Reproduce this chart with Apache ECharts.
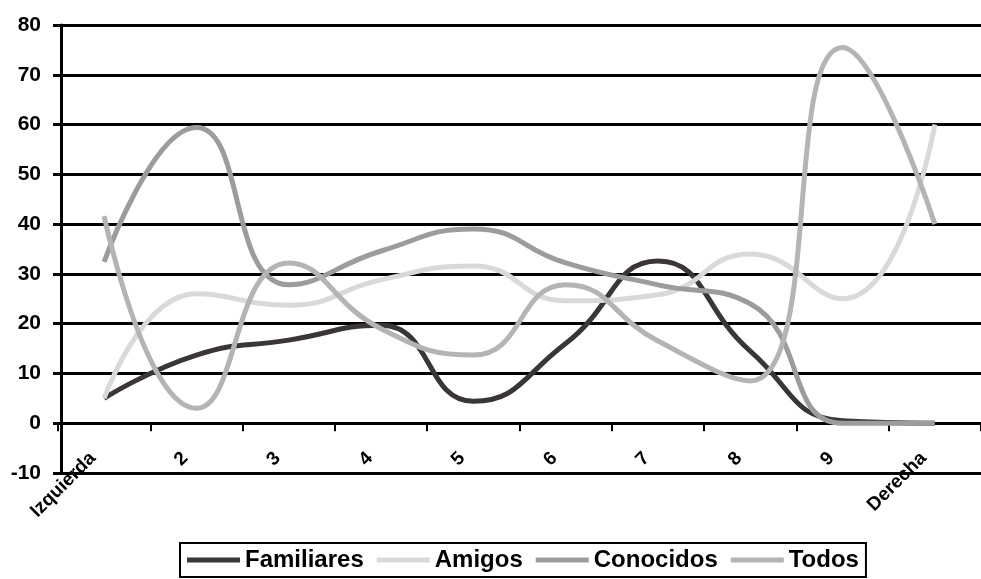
<!DOCTYPE html>
<html>
<head>
<meta charset="utf-8">
<title>Familiares, Amigos, Conocidos, Todos</title>
<script src="https://cdn.jsdelivr.net/npm/echarts@6/dist/echarts.min.js"></script>
<style>
  html, body { margin: 0; padding: 0; background: #fff; }
  #chart { width: 981px; height: 579px; }
</style>
</head>
<body>
<div id="chart"></div>
<script>
// Position on the left–right scale
const categories = ['Izquierda', '2', '3', '4', '5', '6', '7', '8', '9', 'Derecha'];

const familiares = [5, 13.7, 16.7, 19.7, 4.4, 16, 32.6, 14.5, 0.5, 0];
const amigos     = [5, 26, 23.7, 28.8, 31.6, 24.6, 25.8, 34, 25, 60];
const conocidos  = [32.4, 59.4, 27.8, 34.6, 39, 32.2, 27.8, 24, 0, 0];
const todos      = [41.6, 3, 32.2, 19, 13.7, 27.8, 16.5, 8.5, 75.5, 40];

const yTicks = { min: -10, max: 80, step: 10 };

const seriesDefs = [
  { name: 'Familiares', data: familiares, color: '#3b3636' },
  { name: 'Amigos',     data: amigos,     color: '#d9d9d9' },
  { name: 'Conocidos',  data: conocidos,  color: '#9c9c9c' },
  { name: 'Todos',      data: todos,      color: '#b4b4b4' }
];

const FONT = '"Liberation Sans", Arial, sans-serif';

const chart = echarts.init(document.getElementById('chart'), null, { renderer: 'canvas' });

chart.setOption({
  animation: false,
  backgroundColor: '#ffffff',
  grid: { left: 58, right: -10, top: 25, bottom: 106, containLabel: false },
  xAxis: {
    type: 'category',
    data: categories,
    boundaryGap: true,
    axisLine: { show: true, onZero: true, lineStyle: { color: '#000', width: 3 } },
    axisTick: { show: true, length: 8, lineStyle: { color: '#000', width: 2 } },
    axisLabel: {
      interval: 0, rotate: 45, margin: -29,
      padding: [0, 16, 0, 0],
      fontFamily: FONT, fontSize: 19, fontWeight: 'bold', color: '#000'
    },
    splitLine: { show: false }
  },
  yAxis: {
    type: 'value',
    offset: -3,
    min: yTicks.min, max: yTicks.max, interval: yTicks.step,
    axisLine: { show: true, lineStyle: { color: '#000', width: 3 } },
    axisTick: { show: true, length: 8, lineStyle: { color: '#000', width: 3 } },
    axisLabel: { margin: 20, fontFamily: FONT, fontSize: 21, fontWeight: 'bold', color: '#000' },
    splitLine: { show: true, lineStyle: { color: '#000', width: 3 } }
  },
  legend: {
    data: seriesDefs.map(s => s.name),
    left: 180, top: 543,
    orient: 'horizontal',
    icon: 'rect',
    itemWidth: 53, itemHeight: 5, itemGap: 13,
    padding: [5, 7],
    borderColor: '#000', borderWidth: 2,
    textStyle: { fontFamily: FONT, fontSize: 24, fontWeight: 'bold', color: '#000' }
  },
  series: seriesDefs.map(s => ({
    name: s.name,
    type: 'line',
    data: s.data,
    smooth: 0.5,
    showSymbol: false,
    symbol: 'none',
    lineStyle: { color: s.color, width: 5 },
    itemStyle: { color: s.color }
  }))
});
</script>
</body>
</html>
